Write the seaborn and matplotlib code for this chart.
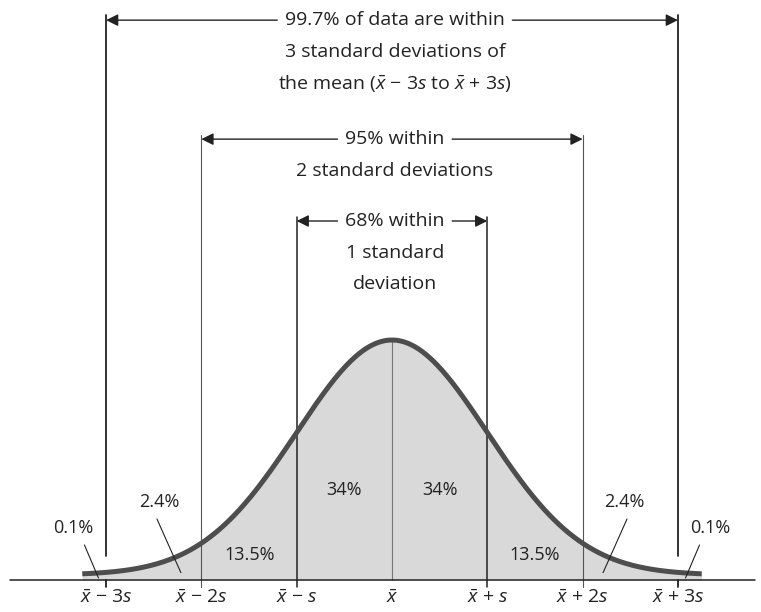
import numpy as np
import pandas as pd
import matplotlib
matplotlib.use("Agg")
import matplotlib.pyplot as plt
import seaborn as sns

# Positions along the axis, in standard deviations from the mean
sigma_steps = [-3, -2, -1, 0, 1, 2, 3]
tick_labels = [r"$\bar{x}$ − 3$s$", r"$\bar{x}$ − 2$s$", r"$\bar{x}$ − $s$", r"$\bar{x}$",
               r"$\bar{x}$ + $s$", r"$\bar{x}$ + 2$s$", r"$\bar{x}$ + 3$s$"]

# Share of the data in each band, left to right
band_shares = [0.1, 2.4, 13.5, 34, 34, 13.5, 2.4, 0.1]

# Brackets: half-width in s, and the text under each arrow
bracket_widths = [3, 2, 1]
bracket_shares = [99.7, 95, 68]
bracket_text = [
    ["of data are within", "3 standard deviations of",
     r"the mean ($\bar{x}$ − 3$s$ to $\bar{x}$ + 3$s$)"],
    ["within", "2 standard deviations"],
    ["within", "1 standard", "deviation"],
]

sns.set_theme(style="white")
plt.rcParams["font.family"] = ["Open Sans", "DejaVu Sans"]
plt.rcParams["mathtext.fontset"] = "custom"
plt.rcParams["mathtext.rm"] = "Open Sans"
plt.rcParams["mathtext.it"] = "Open Sans:italic"
plt.rcParams["mathtext.bf"] = "Open Sans:bold"

fig = plt.figure(figsize=(7.61, 6.12), dpi=100)
ax = fig.add_axes([0, 0, 1, 1])
ax.set_xlim(-4.113, 3.872)
ax.set_ylim(-0.0628, 0.9762)
ax.axis("off")

ink = "#222222"
base = -0.0085

# Normal curve over the mean ± 3.25 s
z = np.linspace(-3.25, 3.25, 500)
curve = pd.DataFrame({"z": z, "density": np.exp(-z ** 2 / 2) / np.sqrt(2 * np.pi)})
ax.fill_between(curve["z"], base, curve["density"], color="#d9d9d9", lw=0, zorder=1)
sns.lineplot(data=curve, x="z", y="density", ax=ax, color="#4d4d4d", lw=3.6,
             zorder=4, solid_capstyle="butt")

# Horizontal axis
ax.plot([-4.008, 3.809], [base, base], color=ink, lw=1.1, zorder=5)

# Vertical guides and ticks
peak = 1 / np.sqrt(2 * np.pi)
tick_low = -0.020
bracket_y = {3: 0.942, 2: 0.740, 1: 0.601}
for s in sigma_steps:
    k = abs(s)
    if k == 0:
        ax.plot([s, s], [peak, base], color="#777777", lw=0.8, zorder=3)
    elif k == 3:
        ax.plot([s, s], [bracket_y[3] + 0.009, 0.032], color=ink, lw=1.3, zorder=3)
        ax.plot([s, s], [base, tick_low], color=ink, lw=1.3, zorder=5)
    elif k == 2:
        ax.plot([s, s], [bracket_y[2] + 0.007, tick_low], color="#555555", lw=0.8, zorder=3)
    else:
        ax.plot([s, s], [bracket_y[1] + 0.007, tick_low], color=ink, lw=1.1, zorder=3)

for s, lab in zip(sigma_steps, tick_labels):
    ax.text(s, -0.039, lab, ha="center", va="center", fontsize=14, color=ink)

# Brackets with arrows and captions
fig.canvas.draw()
renderer = fig.canvas.get_renderer()
line_gap = 0.0535
for k, share, lines in zip(bracket_widths, bracket_shares, bracket_text):
    y0 = bracket_y[k]
    first = f"{share:g}% {lines[0]}"
    t = ax.text(0.03, y0, first, ha="center", va="center", fontsize=14, color=ink)
    for i, extra in enumerate(lines[1:], start=1):
        ax.text(0.03, y0 - i * line_gap, extra, ha="center", va="center",
                fontsize=14, color=ink)
    bb = t.get_window_extent(renderer).transformed(ax.transData.inverted())
    pad = 0.08
    for start, end in [(bb.x0 - pad, -k), (bb.x1 + pad, k)]:
        ax.annotate("", xy=(end, y0), xytext=(start, y0),
                    arrowprops=dict(arrowstyle="-|>", color=ink, lw=1.0,
                                    mutation_scale=18, shrinkA=0, shrinkB=0),
                    zorder=6)

# Band percentages
label_pos = [(-3.34, 0.080), (-2.44, 0.124), (-1.495, 0.034), (-0.50, 0.144),
             (0.50, 0.144), (1.495, 0.034), (2.44, 0.124), (3.34, 0.080)]
for (x, y), share in zip(label_pos, band_shares):
    ax.text(x, y, f"{share:g}%", ha="center", va="center", fontsize=13, color=ink, zorder=6)

# Leader lines from the small tail labels to their bands
leaders = [((-3.227, 0.051), (-3.08, -0.005)), ((-2.466, 0.095), (-2.215, 0.004)),
           ((2.466, 0.095), (2.215, 0.004)), ((3.227, 0.051), (3.08, -0.005))]
for (x1, y1), (x2, y2) in leaders:
    ax.plot([x1, x2], [y1, y2], color=ink, lw=0.8, zorder=6)

fig.savefig("out.png", dpi=100, facecolor="white")
